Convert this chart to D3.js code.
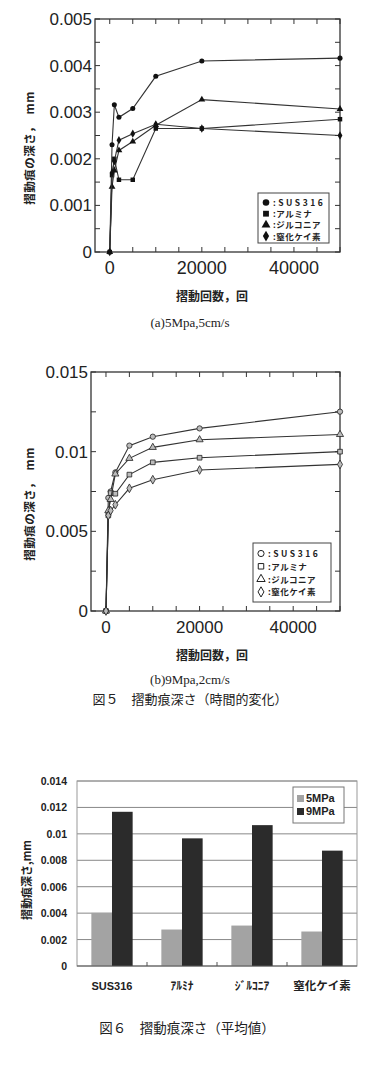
<!DOCTYPE html>
<html>
<head>
<meta charset="utf-8">
<script src="https://cdn.jsdelivr.net/npm/d3@7"></script>
<style>
    body { margin: 0; background: #fff; }
    text { fill: #222; }
</style>
</head>
<body>
<svg id="page" width="382" height="1072"></svg>
<script>
// sliding cycles (x) shared by both time charts
const cycles = [0, 500, 1000, 2000, 5000, 10000, 20000, 50000]
const materials = ["SUS316", "アルミナ", "ジルコニア", "窒化ケイ素"]
const barLabels = ["SUS316", "ｱﾙﾐﾅ", "ｼﾞﾙｺﾆｱ", "窒化ケイ素"]

// (a) 5MPa, 5cm/s  depth in mm
const depth5_sus = [0, 0.0023, 0.00316, 0.00289, 0.00308, 0.00377, 0.0041, 0.00416]
const depth5_alumina = [0, 0.00165, 0.002, 0.00155, 0.00155, 0.00265, 0.00265, 0.00285]
const depth5_zirconia = [0, 0.0014, 0.00175, 0.00218, 0.00237, 0.00272, 0.00327, 0.00307]
const depth5_sin = [0, 0.0017, 0.00195, 0.0024, 0.00254, 0.00274, 0.00265, 0.0025]

// (b) 9MPa, 2cm/s
const depth9_sus = [0, 0.0071, 0.0075, 0.0087, 0.01038, 0.01094, 0.01146, 0.01251]
const depth9_alumina = [0, 0.006, 0.0074, 0.00736, 0.00856, 0.00933, 0.00962, 0.01]
const depth9_zirconia = [0, 0.0063, 0.0070, 0.0086, 0.00958, 0.01027, 0.01075, 0.01108]
const depth9_sin = [0, 0.006, 0.0063, 0.00667, 0.0077, 0.00824, 0.00885, 0.0092]

// fig 6 mean values
const mean5 = [0.00402, 0.00276, 0.00306, 0.00261]
const mean9 = [0.01167, 0.00966, 0.01066, 0.00873]
const barSeries = ["5MPa", "9MPa"]

const svg = d3.select("#page")
const JP = "'Noto Sans CJK JP', sans-serif",
    SANS = "'Liberation Sans', Arial, sans-serif",
    SERIF = "'Liberation Serif', 'Noto Sans CJK JP', serif"
const symbols = [d3.symbolCircle, d3.symbolSquare, d3.symbolTriangle, d3.symbolDiamond]

function timeChart(opts) {
    let g = svg.append("g"),
        x = d3.scaleLinear().domain([-3200, 50000]).range([opts.left, opts.right]),
        y = d3.scaleLinear().domain([0, opts.yMax]).range([opts.bottom, opts.top]),
        line = d3.line().x(d => x(d[0])).y(d => y(d[1]))

    // frame
    g.append("rect")
        .attr("x", opts.left).attr("y", opts.top)
        .attr("width", opts.right - opts.left).attr("height", opts.bottom - opts.top)
        .attr("fill", "none").attr("stroke", "#333").attr("stroke-width", 1.3)

    // inner ticks on all sides
    let xt = d3.range(0, 50001, 5000),
        yt = d3.range(0, opts.yMax + 1e-9, opts.yMinor)
    g.selectAll(null).data(xt).join("line")
        .attr("x1", d => x(d)).attr("x2", d => x(d))
        .attr("y1", opts.bottom).attr("y2", opts.bottom - 5)
        .attr("stroke", "#333")
    g.selectAll(null).data(xt).join("line")
        .attr("x1", d => x(d)).attr("x2", d => x(d))
        .attr("y1", opts.top).attr("y2", opts.top + 5)
        .attr("stroke", "#333")
    g.selectAll(null).data(yt).join("line")
        .attr("x1", opts.left).attr("x2", opts.left + 5)
        .attr("y1", d => y(d)).attr("y2", d => y(d))
        .attr("stroke", "#333")
    g.selectAll(null).data(yt).join("line")
        .attr("x1", opts.right).attr("x2", opts.right - 5)
        .attr("y1", d => y(d)).attr("y2", d => y(d))
        .attr("stroke", "#333")

    // tick labels
    g.selectAll(null).data([0, 20000, 40000]).join("text")
        .attr("x", d => x(d)).attr("y", opts.bottom + 22)
        .attr("text-anchor", "middle")
        .style("font", `${opts.xFont}px ${SANS}`)
        .text(d => d)
    g.selectAll(null).data(opts.yLabels).join("text")
        .attr("x", opts.left - 3).attr("y", d => y(d) + 6)
        .attr("text-anchor", "end")
        .style("font", `17px ${SANS}`)
        .text(d => d)

    // axis titles
    g.append("text")
        .attr("x", 212).attr("y", opts.bottom + 49)
        .attr("text-anchor", "middle")
        .style("font", `bold 12px ${JP}`)
        .text("摺動回数，回")
    g.append("text")
        .attr("transform", `translate(34, ${opts.yTitle}) rotate(-90)`)
        .attr("text-anchor", "middle")
        .style("font", `bold 11.5px ${JP}`)
        .style("letter-spacing", "0.5px")
        .text("摺動痕の深さ，　mm")

    // series
    opts.series.forEach((values, i) => {
        let pts = cycles.map((c, j) => [c, values[j]])
        g.append("path")
            .attr("d", line(pts))
            .attr("fill", "none").attr("stroke", "#333").attr("stroke-width", 1.1)
        g.selectAll(null).data(pts).join("path")
            .attr("transform", d => `translate(${x(d[0])}, ${y(d[1])})`)
            .attr("d", d3.symbol(symbols[i], opts.markerSize))
            .attr("fill", opts.filled ? "#111" : "#bbb")
            .attr("stroke", "#222").attr("stroke-width", opts.filled ? 0 : 0.8)
    })

    // legend
    let lg = g.append("g")
    lg.append("rect")
        .attr("x", opts.legend.x).attr("y", opts.legend.y)
        .attr("width", opts.legend.w).attr("height", opts.legend.h)
        .attr("fill", "#fff").attr("stroke", "#444").attr("stroke-width", 1)
    materials.forEach((name, i) => {
        let cy = opts.legend.y + opts.legend.pad + i * opts.legend.step
        lg.append("path")
            .attr("transform", `translate(${opts.legend.x + 8}, ${cy})`)
            .attr("d", d3.symbol(symbols[i], opts.filled ? 34 : 30))
            .attr("fill", opts.filled ? "#111" : "#fff")
            .attr("stroke", "#222").attr("stroke-width", opts.filled ? 0 : 1)
        lg.append("text")
            .attr("x", opts.legend.x + 15).attr("y", cy + 3.5)
            .style("font", `bold 8.5px ${JP}`)
            .style("letter-spacing", i === 0 ? "2.5px" : "0.5px")
            .text(`:${name}`)
    })

    g.append("text")
        .attr("x", 190).attr("y", opts.caption)
        .attr("text-anchor", "middle")
        .style("font", `13px ${SERIF}`)
        .text(opts.captionText)
}

timeChart({
    left: 95, right: 340, top: 19, bottom: 252,
    yMax: 0.005, yMinor: 0.0005, yLabels: [0, 0.001, 0.002, 0.003, 0.004, 0.005],
    xFont: 18, yTitle: 148, filled: true, markerSize: 20,
    series: [depth5_sus, depth5_alumina, depth5_zirconia, depth5_sin],
    legend: {x: 258, y: 193, w: 71, h: 50, pad: 9.5, step: 11.2},
    caption: 327, captionText: "(a)5Mpa,5cm/s"
})

timeChart({
    left: 91, right: 340, top: 372, bottom: 611,
    yMax: 0.015, yMinor: 0.0025, yLabels: [0, 0.005, 0.01, 0.015],
    xFont: 17, yTitle: 504, filled: false, markerSize: 22,
    series: [depth9_sus, depth9_alumina, depth9_zirconia, depth9_sin],
    legend: {x: 253, y: 543, w: 78, h: 59, pad: 10.5, step: 12.8},
    caption: 684, captionText: "(b)9Mpa,2cm/s"
})

svg.append("text")
    .attr("x", 190).attr("y", 704)
    .attr("text-anchor", "middle")
    .style("font", `13px ${JP}`)
    .text("図５　摺動痕深さ（時間的変化）")

// ---- Fig 6 bar chart
const bar = {left: 77, right: 357, top: 781, bottom: 966}
let bx = d3.scaleBand().domain(materials).range([bar.left, bar.right]).paddingInner(0.41).paddingOuter(0.205),
    bs = d3.scaleBand().domain(barSeries).range([0, bx.bandwidth()]),
    by = d3.scaleLinear().domain([0, 0.014]).range([bar.bottom, bar.top]),
    bc = d3.scaleOrdinal().domain(barSeries).range(["#a3a3a3", "#2b2b2b"]),
    bg = svg.append("g")

bg.selectAll(null).data(d3.range(0.002, 0.0141, 0.002)).join("line")
    .attr("x1", bar.left).attr("x2", bar.right)
    .attr("y1", d => by(d)).attr("y2", d => by(d))
    .attr("stroke", "#888").attr("stroke-width", 1)
bg.append("rect")
    .attr("x", bar.left).attr("y", bar.top)
    .attr("width", bar.right - bar.left).attr("height", bar.bottom - bar.top)
    .attr("fill", "none").attr("stroke", "#999")

materials.forEach((m, i) => {
    [mean5[i], mean9[i]].forEach((v, k) => {
        bg.append("rect")
            .attr("x", bx(m) + bs(barSeries[k])).attr("width", bs.bandwidth())
            .attr("y", by(v)).attr("height", bar.bottom - by(v))
            .attr("fill", bc(barSeries[k]))
    })
})

bg.append("line")
    .attr("x1", bar.left).attr("x2", bar.right)
    .attr("y1", bar.bottom).attr("y2", bar.bottom)
    .attr("stroke", "#555").attr("stroke-width", 1.2)
bg.selectAll(null).data(materials.slice(1)).join("line")
    .attr("x1", d => bx(d) - bx.step() * 0.205).attr("x2", d => bx(d) - bx.step() * 0.205)
    .attr("y1", bar.bottom).attr("y2", bar.bottom - 4)
    .attr("stroke", "#555")

bg.selectAll(null).data(d3.range(0, 0.0141, 0.002)).join("text")
    .attr("x", bar.left - 10).attr("y", d => by(d) + 4)
    .attr("text-anchor", "end")
    .style("font", `bold 10.5px ${SANS}`)
    .text(d => d === 0 ? "0" : d3.format(".3~f")(d))

bg.selectAll(null).data(materials).join("text")
    .attr("x", d => bx(d) + bx.bandwidth() / 2).attr("y", 990)
    .attr("text-anchor", "middle")
    .style("font", d => d === "SUS316" ? `bold 11px ${SANS}` : `bold 11.5px ${JP}`)
    .text((d, i) => barLabels[i])

bg.append("text")
    .attr("transform", "translate(31, 880) rotate(-90)")
    .attr("text-anchor", "middle")
    .style("font", `bold 11px ${JP}`)
    .text("摺動痕深さ,mm")

// legend
let bl = bg.append("g")
bl.append("rect")
    .attr("x", 293).attr("y", 787).attr("width", 51).attr("height", 36)
    .attr("fill", "#fff").attr("stroke", "#777")
barSeries.forEach((s, i) => {
    bl.append("rect")
        .attr("x", 297).attr("y", 795 + i * 13).attr("width", 7).attr("height", 7)
        .attr("fill", bc(s))
    bl.append("text")
        .attr("x", 306).attr("y", 802 + i * 13)
        .style("font", `bold 11px ${SANS}`)
        .text(s)
})

svg.append("text")
    .attr("x", 187).attr("y", 1033)
    .attr("text-anchor", "middle")
    .style("font", `13.5px ${JP}`)
    .text("図６　摺動痕深さ（平均値）")
</script>
</body>
</html>
